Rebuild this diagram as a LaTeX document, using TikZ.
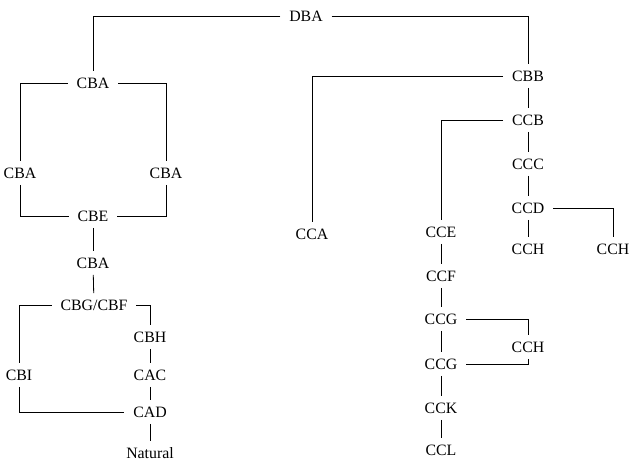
\documentclass[tikz,border=0pt]{standalone}
\usepackage{fontspec}
\setmainfont{Liberation Serif}
\usepackage{tikz}
\usetikzlibrary{positioning}
\tikzset{unit/.style={inner xsep=7.5pt,inner ysep=5.5pt,text height=9pt,text depth=0pt,font=\fontsize{13.5}{15}\selectfont},
  link/.style={line width=0.7pt}}

\begin{document}
\begin{tikzpicture}[x=0.03cm,y=-0.03cm]
  \useasboundingbox (0,0) rectangle (631,463);
  % left branch
  \node[unit] (DBA) at (306,16) {DBA};
  \node[unit] (CBAt) at (93,83) {CBA};
  \node[unit] (CBAl) at (20,173) {CBA};
  \node[unit] (CBAr) at (166,173) {CBA};
  \node[unit] (CBE) at (93,216) {CBE};
  \node[unit] (CBAm) at (93,263) {CBA};
  \node[unit] (CBG) at (94,305) {CBG/CBF};
  \node[unit] (CBI) at (19,375) {CBI};
  \node[unit] (CBH) at (150,337) {CBH};
  \node[unit] (CAC) at (150,375) {CAC};
  \node[unit] (CAD) at (150,412) {CAD};
  \node[unit] (NAT) at (150,453) {Natural};
  % right branch
  \node[unit] (CBB) at (528,76) {CBB};
  \node[unit] (CCA) at (312,234) {CCA};
  \node[unit] (CCB) at (528,120) {CCB};
  \node[unit] (CCC) at (528,164) {CCC};
  \node[unit] (CCD) at (528,208) {CCD};
  \node[unit] (CCHa) at (528,249) {CCH};
  \node[unit] (CCHb) at (613,249) {CCH};
  \node[unit] (CCE) at (441,232) {CCE};
  \node[unit] (CCF) at (441,276) {CCF};
  \node[unit] (CCGa) at (441,319) {CCG};
  \node[unit] (CCHc) at (528,347) {CCH};
  \node[unit] (CCGb) at (441,364) {CCG};
  \node[unit] (CCK) at (441,408) {CCK};
  \node[unit] (CCL) at (441,450) {CCL};
  \draw[link] (DBA.west) -| (CBAt.north);
  \draw[link] (DBA.east) -| (CBB.north);
  \draw[link] (CBAt.west) -| (CBAl.north);
  \draw[link] (CBAt.east) -| (CBAr.north);
  \draw[link] (CBAl.south) |- (CBE.west);
  \draw[link] (CBAr.south) |- (CBE.east);
  \draw[link] (CBE)--(CBAm);
  \draw[link] (CBAm)--(CBG);
  \draw[link] (CBG.west) -| (CBI.north);
  \draw[link] (CBG.east) -| (CBH.north);
  \draw[link] (CBI.south) |- (CAD.west);
  \draw[link] (CBH)--(CAC);
  \draw[link] (CAC)--(CAD);
  \draw[link] (CAD)--(NAT);
  \draw[link] (CBB.west) -| (CCA.north);
  \draw[link] (CBB)--(CCB);
  \draw[link] (CCB)--(CCC);
  \draw[link] (CCC)--(CCD);
  \draw[link] (CCD)--(CCHa);
  \draw[link] (CCD.east) -| (CCHb.north);
  \draw[link] (CCB.west) -| (CCE.north);
  \draw[link] (CCE)--(CCF);
  \draw[link] (CCF)--(CCGa);
  \draw[link] (CCGa)--(CCGb);
  \draw[link] (CCGb)--(CCK);
  \draw[link] (CCK)--(CCL);
  \draw[link] (CCGa.east) -| (CCHc.north);
  \draw[link] (CCHc.south) |- (CCGb.east);
\end{tikzpicture}
\end{document}
